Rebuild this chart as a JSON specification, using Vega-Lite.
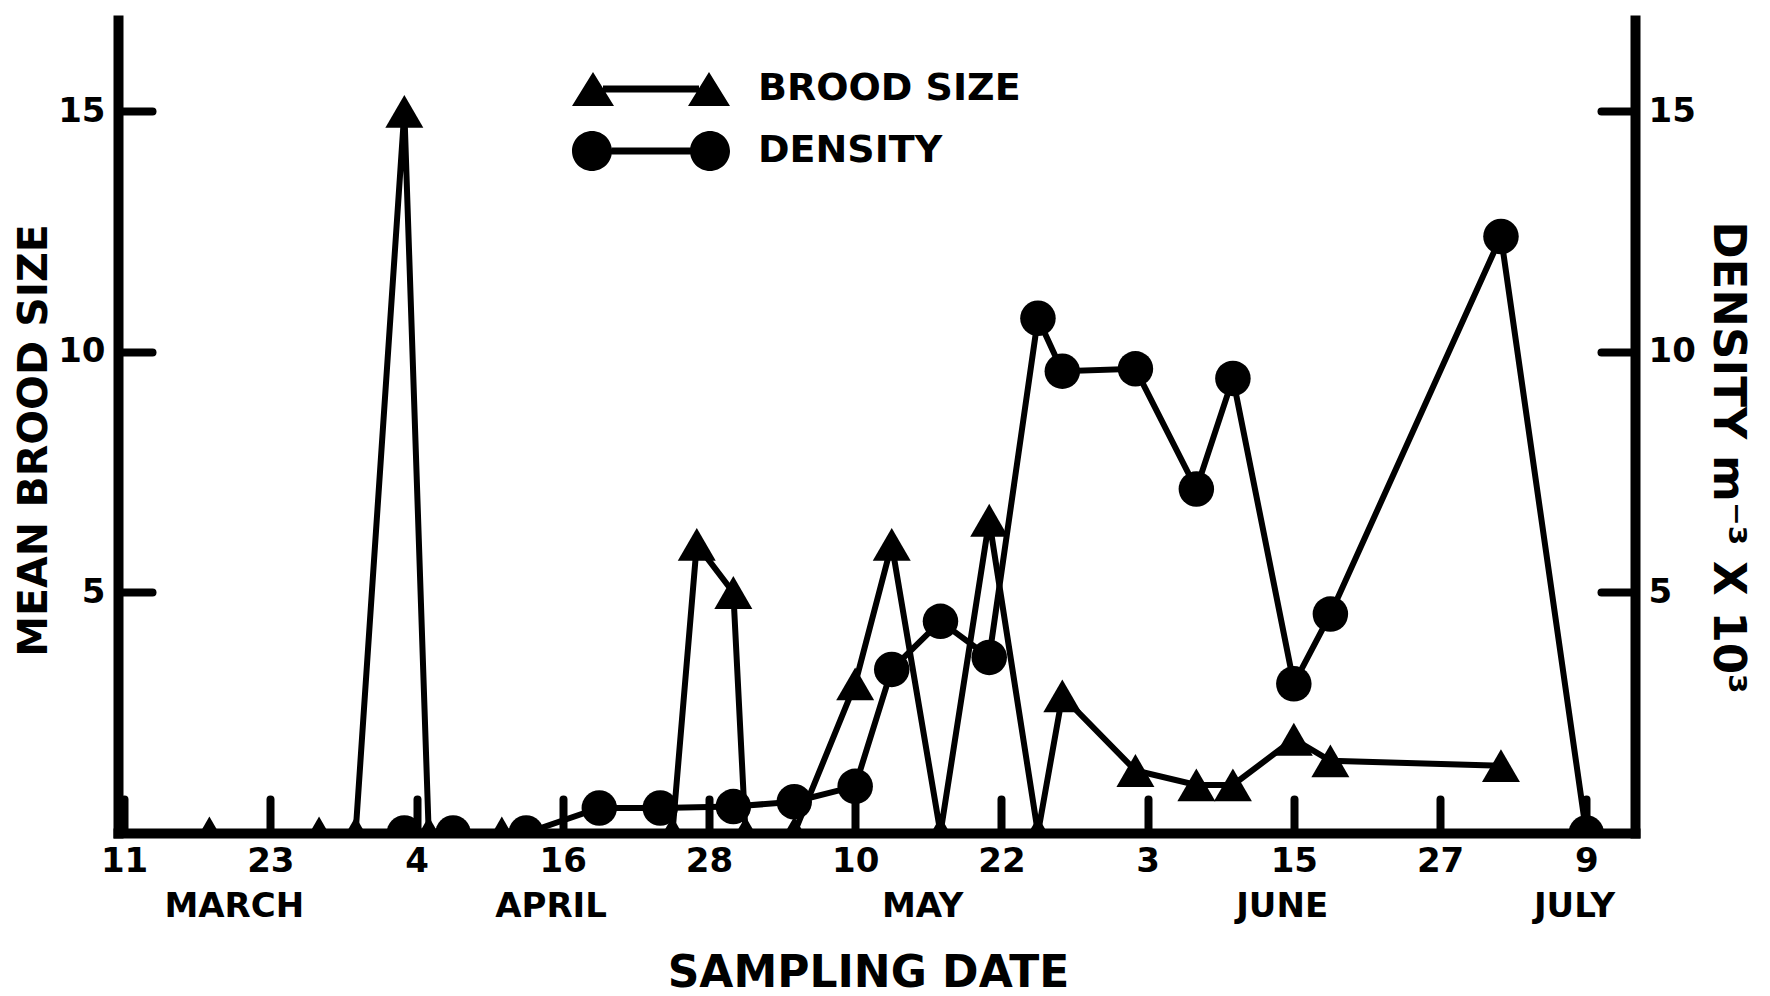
{
  "$schema": "https://vega.github.io/schema/vega-lite/v6.json",
  "width": 1517,
  "height": 813,
  "autosize": {"type": "none"},
  "padding": {"left": 118, "top": 20, "right": 135, "bottom": 163},
  "background": "white",
  "config": {
    "view": {"stroke": null},
    "font": "DejaVu Sans",
    "axis": {
      "domainColor": "black", "domainWidth": 10, "domainCap": "square",
      "tickColor": "black", "tickWidth": 8, "tickCap": "round",
      "labelColor": "black", "labelFont": "DejaVu Sans", "labelFontWeight": "bold",
      "titleColor": "black", "titleFont": "DejaVu Sans", "titleFontWeight": "bold",
      "grid": false, "labelFlush": false, "labelOverlap": false
    },
    "legend": {
      "orient": "none", "title": null, "direction": "vertical", "padding": 0,
      "symbolSize": 1600, "symbolFillColor": "black", "symbolStrokeColor": "black",
      "symbolStrokeWidth": 0, "symbolOpacity": 1,
      "labelFont": "DejaVu Sans", "labelFontSize": 38, "labelFontWeight": "bold",
      "labelColor": "black", "labelOffset": 87, "labelLimit": 600
    }
  },
  "datasets": {
    "brood": [
      {"date": "1977-03-18", "value": 0, "series": "BROOD SIZE"},
      {"date": "1977-03-27", "value": 0, "series": "BROOD SIZE"},
      {"date": "1977-03-30", "value": 0, "series": "BROOD SIZE"},
      {"date": "1977-04-03", "value": 15, "series": "BROOD SIZE"},
      {"date": "1977-04-05", "value": 0, "series": "BROOD SIZE"},
      {"date": "1977-04-11", "value": 0, "series": "BROOD SIZE"},
      {"date": "1977-04-25", "value": 0, "series": "BROOD SIZE"},
      {"date": "1977-04-27", "value": 6, "series": "BROOD SIZE"},
      {"date": "1977-04-30", "value": 5, "series": "BROOD SIZE"},
      {"date": "1977-05-01", "value": 0, "series": "BROOD SIZE"},
      {"date": "1977-05-05", "value": 0, "series": "BROOD SIZE"},
      {"date": "1977-05-10", "value": 3.1, "series": "BROOD SIZE"},
      {"date": "1977-05-13", "value": 6, "series": "BROOD SIZE"},
      {"date": "1977-05-17", "value": 0, "series": "BROOD SIZE"},
      {"date": "1977-05-21", "value": 6.5, "series": "BROOD SIZE"},
      {"date": "1977-05-25", "value": 0, "series": "BROOD SIZE"},
      {"date": "1977-05-27", "value": 2.85, "series": "BROOD SIZE"},
      {"date": "1977-06-02", "value": 1.3, "series": "BROOD SIZE"},
      {"date": "1977-06-07", "value": 1.0, "series": "BROOD SIZE"},
      {"date": "1977-06-10", "value": 1.0, "series": "BROOD SIZE"},
      {"date": "1977-06-15", "value": 1.95, "series": "BROOD SIZE"},
      {"date": "1977-06-18", "value": 1.5, "series": "BROOD SIZE"},
      {"date": "1977-07-02", "value": 1.4, "series": "BROOD SIZE"}
    ],
    "density": [
      {"date": "1977-04-03", "value": 0, "series": "DENSITY"},
      {"date": "1977-04-07", "value": 0, "series": "DENSITY"},
      {"date": "1977-04-13", "value": 0, "series": "DENSITY"},
      {"date": "1977-04-19", "value": 0.52, "series": "DENSITY"},
      {"date": "1977-04-24", "value": 0.52, "series": "DENSITY"},
      {"date": "1977-04-30", "value": 0.55, "series": "DENSITY"},
      {"date": "1977-05-05", "value": 0.65, "series": "DENSITY"},
      {"date": "1977-05-10", "value": 0.97, "series": "DENSITY"},
      {"date": "1977-05-13", "value": 3.4, "series": "DENSITY"},
      {"date": "1977-05-17", "value": 4.4, "series": "DENSITY"},
      {"date": "1977-05-21", "value": 3.65, "series": "DENSITY"},
      {"date": "1977-05-25", "value": 10.7, "series": "DENSITY"},
      {"date": "1977-05-27", "value": 9.6, "series": "DENSITY"},
      {"date": "1977-06-02", "value": 9.65, "series": "DENSITY"},
      {"date": "1977-06-07", "value": 7.15, "series": "DENSITY"},
      {"date": "1977-06-10", "value": 9.45, "series": "DENSITY"},
      {"date": "1977-06-15", "value": 3.1, "series": "DENSITY"},
      {"date": "1977-06-18", "value": 4.55, "series": "DENSITY"},
      {"date": "1977-07-02", "value": 12.4, "series": "DENSITY"},
      {"date": "1977-07-09", "value": 0, "series": "DENSITY"}
    ]
  },
  "layer": [
    {
      "data": {"name": "brood"},
      "encoding": {
        "x": {
          "field": "date", "type": "temporal",
          "scale": {"type": "utc", "domain": [
            {"year": 1977, "month": 3, "date": 10, "hours": 12, "utc": true},
            {"year": 1977, "month": 7, "date": 13, "utc": true}
          ]},
          "axis": {
            "orient": "bottom",
            "values": [
              {"year": 1977, "month": 3, "date": 11, "utc": true},
              {"year": 1977, "month": 3, "date": 23, "utc": true},
              {"year": 1977, "month": 4, "date": 4, "utc": true},
              {"year": 1977, "month": 4, "date": 16, "utc": true},
              {"year": 1977, "month": 4, "date": 28, "utc": true},
              {"year": 1977, "month": 5, "date": 10, "utc": true},
              {"year": 1977, "month": 5, "date": 22, "utc": true},
              {"year": 1977, "month": 6, "date": 3, "utc": true},
              {"year": 1977, "month": 6, "date": 15, "utc": true},
              {"year": 1977, "month": 6, "date": 27, "utc": true},
              {"year": 1977, "month": 7, "date": 9, "utc": true}
            ],
            "labelExpr": "utcFormat(datum.value, '%-d')",
            "tickSize": -34, "labelPadding": 62, "labelBaseline": "middle",
            "labelFontSize": 34, "title": null
          }
        },
        "y": {
          "field": "value", "type": "quantitative",
          "scale": {"domain": [0, 16.9], "nice": false, "zero": true},
          "axis": {
            "orient": "left", "values": [5, 10, 15],
            "tickSize": -34, "labelPadding": 47, "labelFontSize": 34,
            "title": "MEAN BROOD SIZE", "titleFontSize": 41,
            "titleX": -84, "titleY": 420, "titleAngle": -90,
            "titleBaseline": "middle", "titleAlign": "center"
          }
        }
      },
      "layer": [
        {
          "mark": {"type": "line", "strokeWidth": 6},
          "encoding": {
            "color": {
              "field": "series", "type": "nominal",
              "scale": {"domain": ["BROOD SIZE"], "range": ["black"]},
              "legend": {
                "legendX": 513, "legendY": 49,
                "symbolType": "M-3.95,0.85L-2.9,-0.85L-1.85,0.85Z M1.85,0.85L2.9,-0.85L3.95,0.85Z M-2.4,-0.175L2.4,-0.175L2.4,0.175L-2.4,0.175Z"
              }
            }
          }
        },
        {"mark": {"type": "point", "shape": "triangle-up", "filled": true, "color": "black", "opacity": 1, "size": 1444, "clip": true}}
      ]
    },
    {
      "data": {"name": "density"},
      "encoding": {
        "x": {
          "field": "date", "type": "temporal",
          "scale": {"type": "utc", "domain": [
            {"year": 1977, "month": 3, "date": 10, "hours": 12, "utc": true},
            {"year": 1977, "month": 7, "date": 13, "utc": true}
          ]},
          "axis": {
            "orient": "bottom",
            "values": [
              {"year": 1977, "month": 3, "date": 20, "utc": true},
              {"year": 1977, "month": 4, "date": 15, "utc": true},
              {"year": 1977, "month": 5, "date": 15, "hours": 12, "utc": true},
              {"year": 1977, "month": 6, "date": 14, "utc": true},
              {"year": 1977, "month": 7, "date": 8, "utc": true}
            ],
            "labelExpr": "upper(utcFormat(datum.value, '%B'))",
            "ticks": false, "domain": false,
            "labelPadding": 73, "labelBaseline": "middle", "labelFontSize": 34,
            "title": "SAMPLING DATE", "titleFontSize": 44,
            "titleX": 750, "titleY": 140, "titleBaseline": "middle", "titleAlign": "center"
          }
        },
        "y": {
          "field": "value", "type": "quantitative",
          "scale": {"domain": [0, 16.9], "nice": false, "zero": true},
          "axis": {
            "orient": "right", "values": [5, 10, 15],
            "tickSize": -34, "labelPadding": 47, "labelFontSize": 34,
            "title": "DENSITY m⁻³ X 10³", "titleFontSize": 45,
            "titleX": 92, "titleY": 437, "titleAngle": 90,
            "titleBaseline": "middle", "titleAlign": "center"
          }
        }
      },
      "layer": [
        {
          "mark": {"type": "line", "strokeWidth": 6},
          "encoding": {
            "color": {
              "field": "series", "type": "nominal",
              "scale": {"domain": ["DENSITY"], "range": ["black"]},
              "legend": {
                "legendX": 513, "legendY": 111,
                "symbolType": "M-3.95,0A1,1,0,1,1,-1.95,0A1,1,0,1,1,-3.95,0Z M1.95,0A1,1,0,1,1,3.95,0A1,1,0,1,1,1.95,0Z M-1.96,-0.175L1.96,-0.175L1.96,0.175L-1.96,0.175Z"
              }
            }
          }
        },
        {"mark": {"type": "point", "shape": "circle", "filled": true, "color": "black", "opacity": 1, "size": 1260, "clip": true}}
      ]
    }
  ],
  "resolve": {
    "scale": {"x": "independent", "y": "independent", "color": "independent"},
    "legend": {"color": "independent"}
  }
}
